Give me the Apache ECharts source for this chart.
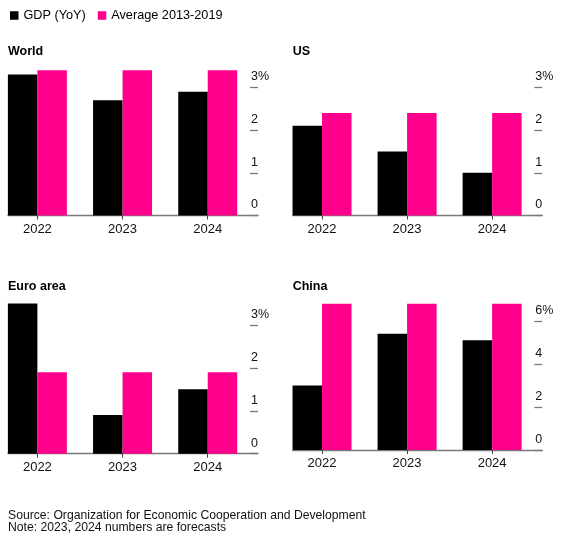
<!DOCTYPE html>
<html>
<head>
<meta charset="utf-8">
<script src="https://cdn.jsdelivr.net/npm/echarts@6/dist/echarts.min.js"></script>
<style>
html,body{margin:0;padding:0;background:#fff;}
#chart{width:587px;height:544px;}
</style>
</head>
<body>
<div id="chart"></div>
<script>
// ---- data ----
var years = ['2022', '2023', '2024'];
var seriesNames = ['GDP (YoY)', 'Average 2013-2019'];
var panelTitles = ['World', 'US', 'Euro area', 'China'];
var worldGdp = [3.3, 2.7, 2.9];
var worldAvg = [3.4, 3.4, 3.4];
var usGdp = [2.1, 1.5, 1.0];
var usAvg = [2.4, 2.4, 2.4];
var euroGdp = [3.5, 0.9, 1.5];
var euroAvg = [1.9, 1.9, 1.9];
var chinaGdp = [3.0, 5.4, 5.1];
var chinaAvg = [6.8, 6.8, 6.8];
var yMax = [3.4, 3.4, 3.5, 6.8];
var yTicks3 = [0, 1, 2, 3];
var yTicks6 = [0, 2, 4, 6];
var sourceText = 'Source: Organization for Economic Cooperation and Development';
var noteText = 'Note: 2023, 2024 numbers are forecasts';

// ---- layout ----
var FONT = '"Liberation Sans", Arial, Helvetica, sans-serif';
var PINK = '#ff008c';
var BLACK = '#000000';
var AXIS = '#7a7a7a';
var grids = [
  {left: 8, top: 70.3, width: 250, height: 145.2},
  {left: 292.7, top: 70.3, width: 249.6, height: 145.2},
  {left: 8, top: 303.5, width: 250, height: 150.2},
  {left: 292.7, top: 303.7, width: 249.6, height: 146.3}
];
var titleTops = [45, 45, 280, 280];
var titleLefts = [8, 292.7, 8, 292.7];
var gdpSets = [worldGdp, usGdp, euroGdp, chinaGdp];
var avgSets = [worldAvg, usAvg, euroAvg, chinaAvg];
var tickSets = [yTicks3, yTicks3, yTicks3, yTicks6];

function pairs(arr) {
  return arr.map(function (v, i) { return [i, v]; });
}

var xAxes = [], yAxes = [], series = [], titles = [];
for (var p = 0; p < 4; p++) {
  (function (p) {
    var ticks = tickSets[p];
    var topTick = ticks[ticks.length - 1];
    xAxes.push({
      gridIndex: p,
      type: 'value',
      min: -0.345,
      max: 2.59,
      splitLine: {show: false},
      axisLine: {show: true, onZero: false, lineStyle: {color: AXIS, width: 1.3}},
      axisTick: {show: true, customValues: [0, 1, 2], length: 4, lineStyle: {color: '#444', width: 1}},
      axisLabel: {
        customValues: [0, 1, 2],
        margin: 7,
        fontFamily: FONT, fontSize: 13, color: '#111',
        formatter: function (v) { return years[Math.round(v)]; }
      }
    });
    yAxes.push({
      gridIndex: p,
      type: 'value',
      position: 'right',
      min: 0,
      max: yMax[p],
      splitLine: {show: false},
      axisLine: {show: false, onZero: false},
      axisTick: {show: true, inside: true, length: 8, customValues: ticks, lineStyle: {color: AXIS, width: 1.3}},
      axisLabel: {
        customValues: ticks,
        inside: true,
        margin: 7,
        align: 'left',
        verticalAlign: 'bottom',
        padding: [0, 0, 4, 0],
        fontFamily: FONT, fontSize: 12.5, color: '#111',
        formatter: function (v) { return v === topTick ? v + '%' : String(v); }
      }
    });
    series.push({
      name: seriesNames[0],
      type: 'bar',
      xAxisIndex: p, yAxisIndex: p,
      barWidth: 29.5, barGap: '0%',
      itemStyle: {color: BLACK},
      data: pairs(gdpSets[p])
    });
    series.push({
      name: seriesNames[1],
      type: 'bar',
      xAxisIndex: p, yAxisIndex: p,
      barWidth: 29.5, barGap: '0%',
      itemStyle: {color: PINK},
      data: pairs(avgSets[p])
    });
    titles.push({
      text: panelTitles[p],
      left: titleLefts[p], top: titleTops[p], padding: 0,
      textStyle: {fontFamily: FONT, fontSize: 12.5, fontWeight: 'bold', color: '#000'}
    });
  })(p);
}
titles.push({
  text: sourceText + '\n' + noteText,
  left: 8, top: 509, padding: 0,
  textStyle: {fontFamily: FONT, fontSize: 12.2, fontWeight: 'normal', color: '#111', lineHeight: 12.3}
});

var chart = echarts.init(document.getElementById('chart'), null, {renderer: 'canvas'});
chart.setOption({
  animation: false,
  backgroundColor: '#fff',
  title: titles,
  legend: {
    data: seriesNames,
    left: 10, top: 9, padding: 0,
    icon: 'rect', itemWidth: 8.5, itemHeight: 8.5, itemGap: 12,
    textStyle: {fontFamily: FONT, fontSize: 12.7, color: '#000'}
  },
  grid: grids,
  xAxis: xAxes,
  yAxis: yAxes,
  series: series
});
</script>
</body>
</html>
